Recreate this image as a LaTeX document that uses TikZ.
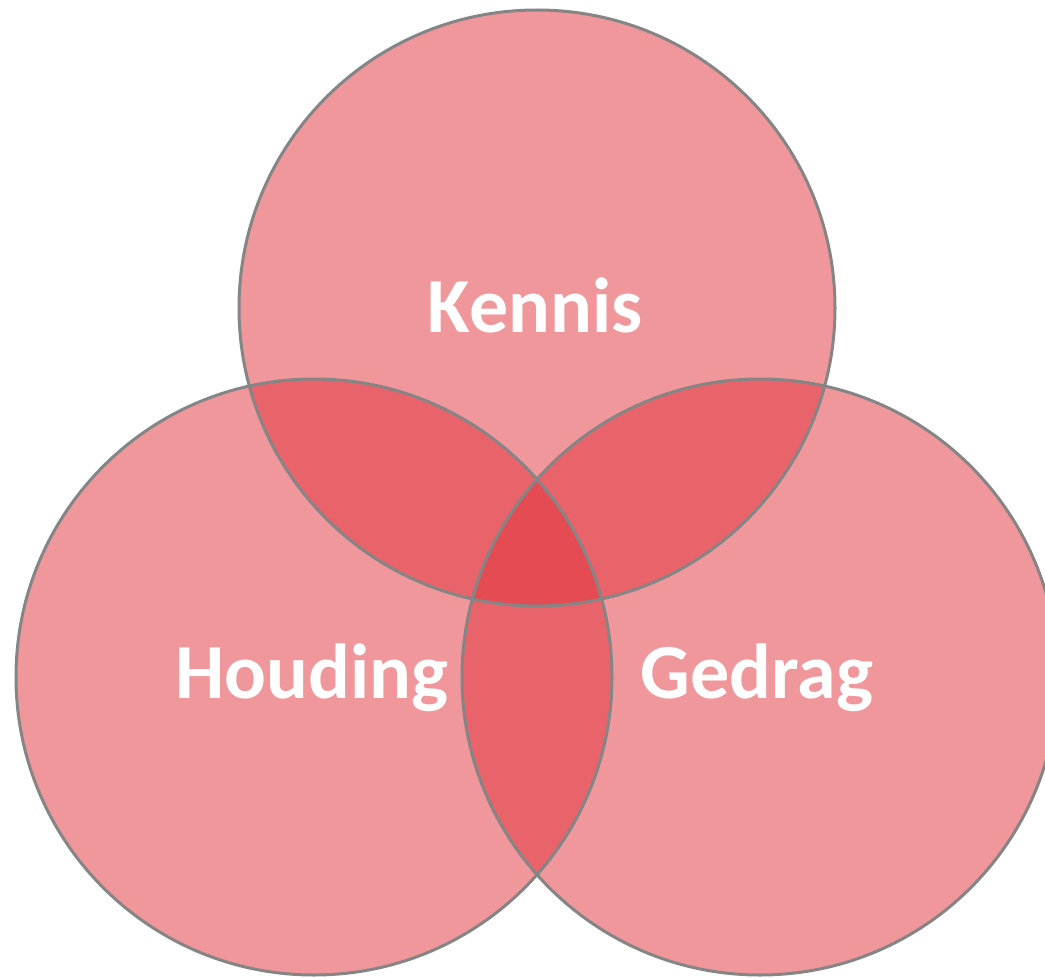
\documentclass[tikz,border=0pt]{standalone}
\usepackage{fontspec}
\setmainfont{Carlito}
\definecolor{vennred}{RGB}{226,51,59}
\definecolor{venngray}{RGB}{133,133,133}
\begin{document}
\begin{tikzpicture}[x=1pt,y=-1pt,
  setfill/.style={fill=vennred,fill opacity=0.51},
  setline/.style={draw=venngray,line width=3pt},
  setlabel/.style={text=white,font=\fontsize{78}{90}\selectfont\bfseries,inner sep=0pt}]
\useasboundingbox (0,0) rectangle (1045,979);
\coordinate (ct) at (537,308);
\coordinate (cl) at (314,677);
\coordinate (cr) at (760,677);
\fill[setfill] (ct) circle (298);
\fill[setfill] (cl) circle (298);
\fill[setfill] (cr) circle (298);
\draw[setline] (ct) circle (298);
\draw[setline] (cl) circle (298);
\draw[setline] (cr) circle (298);
\node[setlabel] (kennis) at (535,305) {Kennis};
\node[setlabel] (houding) at (312,678) {Houding};
\node[setlabel] (gedrag) at (757,678) {Gedrag};
\end{tikzpicture}
\end{document}
